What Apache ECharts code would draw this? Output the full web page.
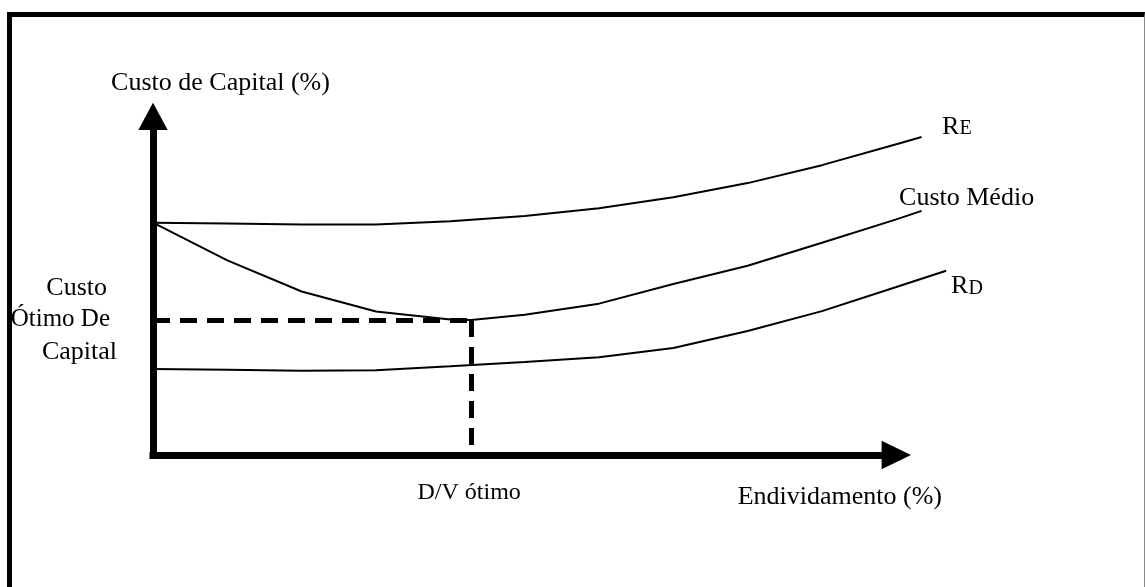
<!DOCTYPE html>
<html lang="pt">
<head>
    <meta charset="UTF-8">
    <title>Custo de Capital</title>
    <script src="https://cdn.jsdelivr.net/npm/echarts@6/dist/echarts.min.js"></script>
    <style>
        html, body {
            margin: 0;
            padding: 0;
            background: #fff;
        }
        #charts {
            position: absolute;
            left: 0;
            top: 0;
            width: 1145px;
            height: 587px;
        }
        .frame {
            position: absolute;
            left: 7px;
            top: 12px;
            width: 1138px;
            height: 620px;
            box-sizing: border-box;
            border-left: 5px solid #000;
            border-top: 5px solid #000;
            border-right: 1px solid #888;
        }
    </style>
</head>
<body>
<div class="frame"></div>
<div id="charts"></div>

<script>
    // endividamento (%) -> custo (%)
    var reX = [0, 10, 20, 30, 40, 50, 60, 70, 80, 90, 100, 103.4];
    var reY = [68.6, 68.4, 68.1, 68.1, 69.0, 70.6, 72.9, 76.1, 80.3, 85.6, 91.8, 93.9];

    var medioX = [0, 10, 20, 30, 40, 42.8, 50, 60, 70, 80, 90, 100, 103.4];
    var medioY = [68.6, 57.5, 48.3, 42.4, 40.0, 39.9, 41.4, 44.7, 50.5, 55.9, 62.7, 69.6, 72.1];

    var rdX = [0, 10, 20, 30, 40, 50, 60, 70, 80, 90, 100, 106.7];
    var rdY = [25.4, 25.2, 24.9, 25.0, 26.2, 27.5, 28.9, 31.6, 36.6, 42.5, 49.6, 54.4];

    var otimo = [42.8, 39.9]; // D/V otimo, custo otimo

    var serif = "'Liberation Serif', 'Times New Roman', serif";

    function pares(xs, ys) {
        var out = [];
        for (var i = 0; i < xs.length; i++) {
            out.push([xs[i], ys[i]]);
        }
        return out;
    }

    var myChart = echarts.init(document.getElementById('charts'));

    // mesma escala nos dois grids: 0..100 -> 153..896.3 px
    var pxPorUnidade = (896.3 - 153) / 100;
    var xMaxCurvas = 110;

    var eixo = {
        show: true,
        symbol: ['none', 'triangle'],
        lineStyle: {color: '#000', width: 7, cap: 'square'}
    };
    var escondido = {
        show: false
    };

    var option = {
        animation: false,
        grid: [
            {
                // eixos visiveis com setas
                left: 153,
                right: 1145 - 896.3,
                top: 116.4,
                bottom: 132,
                outerBoundsMode: 'none'
            },
            {
                // curvas (passam um pouco da seta)
                left: 153,
                right: 1145 - 153 - xMaxCurvas * pxPorUnidade,
                top: 116.4,
                bottom: 132,
                outerBoundsMode: 'none'
            }
        ],
        xAxis: [
            {
                gridIndex: 0,
                type: 'value',
                min: 0,
                max: 100,
                axisLine: Object.assign({symbolSize: [28.3, 29.3]}, eixo),
                axisTick: {show: false},
                axisLabel: {show: false},
                splitLine: {show: false},
                name: 'Endividamento (%)',
                nameLocation: 'end',
                nameGap: 45.7,
                nameTextStyle: {
                    color: '#000',
                    fontFamily: serif,
                    fontSize: 26,
                    align: 'right',
                    verticalAlign: 'top',
                    padding: [29, 0, 0, 0]
                }
            },
            {
                gridIndex: 1,
                type: 'value',
                min: 0,
                max: xMaxCurvas,
                show: false,
                splitLine: escondido
            }
        ],
        yAxis: [
            {
                gridIndex: 0,
                type: 'value',
                min: 0,
                max: 100,
                axisLine: Object.assign({symbolSize: [29.4, 27.3]}, eixo),
                axisTick: {show: false},
                axisLabel: {show: false},
                splitLine: {show: false},
                name: 'Custo de Capital (%)',
                nameLocation: 'end',
                nameGap: 20.4,
                nameTextStyle: {
                    color: '#000',
                    fontFamily: serif,
                    fontSize: 26,
                    align: 'center',
                    padding: [0, 0, 0, 135]
                }
            },
            {
                gridIndex: 1,
                type: 'value',
                min: 0,
                max: 100,
                show: false,
                splitLine: escondido
            }
        ],
        series: [
            {
                name: 'RE',
                type: 'line',
                xAxisIndex: 1,
                yAxisIndex: 1,
                data: pares(reX, reY),
                symbol: 'none',
                lineStyle: {color: '#000', width: 2},
                endLabel: {
                    show: true,
                    distance: 20.5,
                    offset: [0, -10],
                    formatter: '{r|R}{s|E}',
                    rich: {
                        r: {fontFamily: serif, fontSize: 26, lineHeight: 26, color: '#000', verticalAlign: 'bottom'},
                        s: {fontFamily: serif, fontSize: 20, lineHeight: 20, color: '#000', verticalAlign: 'bottom', padding: [0, 0, 1, 0]}
                    }
                }
            },
            {
                name: 'Custo Médio',
                type: 'line',
                xAxisIndex: 1,
                yAxisIndex: 1,
                data: pares(medioX, medioY),
                symbol: 'none',
                lineStyle: {color: '#000', width: 2},
                endLabel: {
                    show: true,
                    distance: 0,
                    offset: [-22.5, -12.5],
                    formatter: 'Custo Médio',
                    color: '#000',
                    fontFamily: serif,
                    fontSize: 26
                },
                markLine: {
                    silent: true,
                    animation: false,
                    symbol: ['none', 'none'],
                    lineStyle: {color: '#000', width: 5, type: [17, 10]},
                    label: {show: false},
                    data: [
                        [
                            {
                                coord: [0, otimo[1]],
                                label: {
                                    show: true,
                                    position: 'start',
                                    distance: 36,
                                    formatter: '{a|Custo}\n{b|Ótimo De}\n{c|Capital}',
                                    rich: {
                                        a: {fontFamily: serif, fontSize: 26, lineHeight: 32, color: '#000', align: 'right', padding: [0, 10, 0, 0]},
                                        b: {fontFamily: serif, fontSize: 25, lineHeight: 32, color: '#000', align: 'right', padding: [0, 7, 0, 0]},
                                        c: {fontFamily: serif, fontSize: 26, lineHeight: 32, color: '#000', align: 'right'}
                                    }
                                }
                            },
                            {coord: [otimo[0], otimo[1]]}
                        ],
                        [
                            {
                                coord: [otimo[0], otimo[1]],
                                label: {
                                    show: true,
                                    position: 'end',
                                    distance: 26,
                                    formatter: 'D/V ótimo',
                                    color: '#000',
                                    fontFamily: serif,
                                    fontSize: 24,
                                    padding: [0, 4, 0, 0]
                                }
                            },
                            {coord: [otimo[0], 0]}
                        ]
                    ]
                }
            },
            {
                name: 'RD',
                type: 'line',
                xAxisIndex: 1,
                yAxisIndex: 1,
                data: pares(rdX, rdY),
                symbol: 'none',
                lineStyle: {color: '#000', width: 2},
                endLabel: {
                    show: true,
                    distance: 5,
                    offset: [0, 15.5],
                    formatter: '{r|R}{s|D}',
                    rich: {
                        r: {fontFamily: serif, fontSize: 26, lineHeight: 26, color: '#000', verticalAlign: 'bottom'},
                        s: {fontFamily: serif, fontSize: 20, lineHeight: 20, color: '#000', verticalAlign: 'bottom', padding: [0, 0, 1, 0]}
                    }
                }
            }
        ]
    };

    myChart.setOption(option);
</script>
</body>
</html>
